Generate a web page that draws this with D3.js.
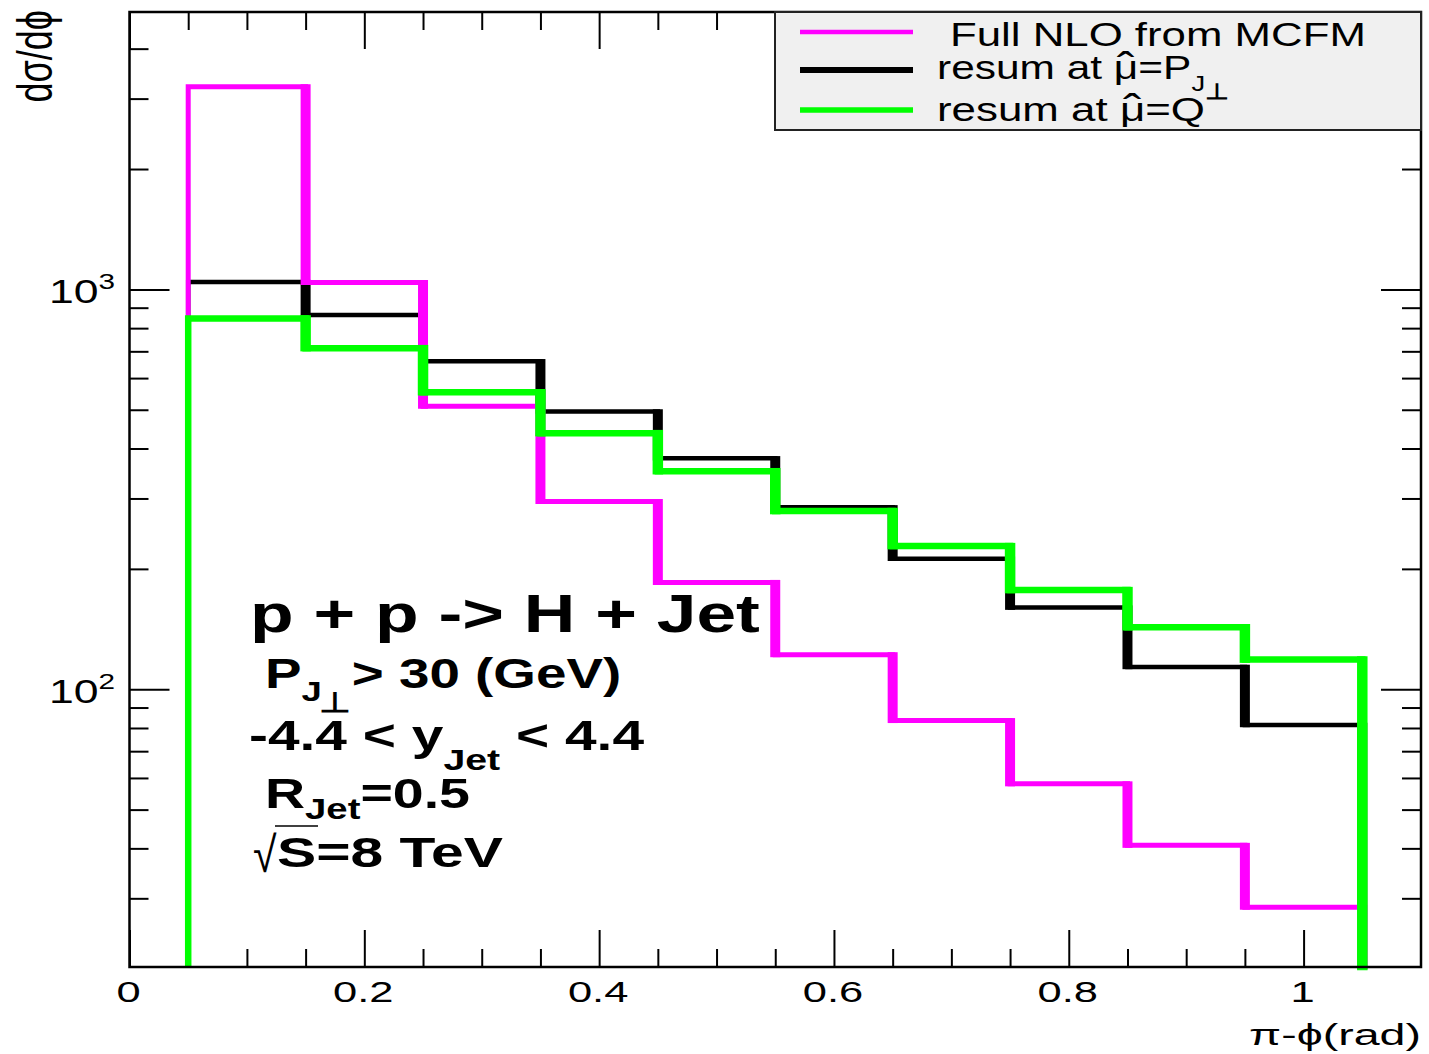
<!DOCTYPE html>
<html>
<head>
<meta charset="utf-8">
<script src="https://cdn.jsdelivr.net/npm/d3@7"></script>
<style>
  html, body { margin: 0; padding: 0; background: #fff; }
  text { font-family: "Liberation Sans", Arial, sans-serif; fill: #000; }
</style>
</head>
<body>
<svg id="chart" width="1429" height="1054"></svg>
<script>
// Bin edges of pi - phi (rad)
const binEdges = [0.05, 0.15, 0.25, 0.35, 0.45, 0.55, 0.65, 0.75, 0.85, 0.95, 1.05];

// dsigma/dphi per bin
const nloMCFM  = [3210, 1040, 510, 295, 185, 122, 83.5, 58, 40.7, 28.5];
const resumPJ  = [1043, 863, 661, 495, 378, 285, 212, 160, 113.7, 81.4];
const resumQ   = [846, 713, 553, 437, 351, 279, 228, 177, 142.9, 118.6];

// Axis ticks
const xMajorTicks = [0, 0.2, 0.4, 0.6, 0.8, 1.0];
const xMajorLabels = ["0", "0.2", "0.4", "0.6", "0.8", "1"];
const xMinorTicks = [0.05, 0.1, 0.15, 0.25, 0.3, 0.35, 0.45, 0.5, 0.55, 0.65, 0.7, 0.75, 0.85, 0.9, 0.95, 1.05];
const yMajorTicks = [100, 1000];
const yMajorExponents = ["2", "3"];
const yMinorTicks = [30, 40, 50, 60, 70, 80, 90, 200, 300, 400, 500, 600, 700, 800, 900, 2000, 3000, 4000];

const W = 1429, H = 1054;
const frame = { left: 129.5, right: 1421, top: 12, bottom: 967 };

const x = d3.scaleLinear().domain([0, 1.1]).range([frame.left, frame.right]);
const y = d3.scaleLog().domain([20.2, 4940]).range([frame.bottom, frame.top]);

const svg = d3.select("#chart");
svg.append("rect").attr("width", W).attr("height", H).attr("fill", "#fff");

// ---- ticks on all four sides, pointing inward ----
function tickSet(gen, transform, values, size) {
  svg.append("g")
    .attr("transform", transform)
    .call(gen.tickValues(values).tickSize(size).tickFormat(""))
    .call(g => g.select(".domain").remove())
    .call(g => g.selectAll("line").attr("stroke", "#000").attr("stroke-width", 2));
}
tickSet(d3.axisBottom(x), `translate(0,${frame.bottom})`, xMajorTicks, -37);
tickSet(d3.axisBottom(x), `translate(0,${frame.bottom})`, xMinorTicks, -18);
tickSet(d3.axisTop(x), `translate(0,${frame.top})`, xMajorTicks, -37);
tickSet(d3.axisTop(x), `translate(0,${frame.top})`, xMinorTicks, -18);
tickSet(d3.axisLeft(y), `translate(${frame.left},0)`, yMajorTicks, -40);
tickSet(d3.axisLeft(y), `translate(${frame.left},0)`, yMinorTicks, -19);
tickSet(d3.axisRight(y), `translate(${frame.right},0)`, yMajorTicks, -40);
tickSet(d3.axisRight(y), `translate(${frame.right},0)`, yMinorTicks, -19);

// ---- histograms ----
const series = [
  { name: "resumPJ", values: resumPJ, color: "#000000", hw: 4.5, vw: 10 },
  { name: "nloMCFM", values: nloMCFM, color: "#ff00ff", hw: 5, vw: 10 },
  { name: "resumQ",  values: resumQ,  color: "#00ff00", hw: 6.5, vw: 10.5 }
];

function stepPath(vals) {
  const p = d3.path();
  p.moveTo(x(binEdges[0]), y.range()[0]);
  vals.forEach((v, i) => {
    p.lineTo(x(binEdges[i]), y(v));
    p.lineTo(x(binEdges[i + 1]), y(v));
  });
  p.lineTo(x(binEdges[binEdges.length - 1]), y.range()[0]);
  return p.toString();
}

series.forEach(s => {
  const g = svg.append("g").attr("class", "hist " + s.name);
  g.append("path")
    .attr("d", stepPath(s.values))
    .attr("fill", "none")
    .attr("stroke", s.color)
    .attr("stroke-width", s.hw)
    .attr("stroke-linejoin", "miter");
  // bin-boundary risers (and the closing edge) drawn heavier
  const risers = s.values.map((v, i) => ({
    xe: binEdges[i + 1],
    a: v,
    b: i + 1 < s.values.length ? s.values[i + 1] : null
  }));
  g.selectAll("line.riser").data(risers).join("line")
    .attr("class", "riser")
    .attr("x1", d => x(d.xe)).attr("x2", d => x(d.xe))
    .attr("y1", d => Math.min(y(d.a), d.b === null ? y.range()[0] : y(d.b)) - s.hw / 2)
    .attr("y2", d => Math.max(y(d.a), d.b === null ? y.range()[0] : y(d.b)) + s.hw / 2)
    .attr("stroke", s.color)
    .attr("stroke-width", s.vw);
});

// ---- frame ----
svg.append("rect")
  .attr("x", frame.left).attr("y", frame.top)
  .attr("width", frame.right - frame.left).attr("height", frame.bottom - frame.top)
  .attr("fill", "none").attr("stroke", "#000").attr("stroke-width", 2.5);

// ---- text helper: builds a text from parts, then stretches it horizontally to a given width ----
function fitText(parent, cfg) {
  const g = parent.append("g");
  const t = g.append("text")
    .attr("font-size", cfg.size)
    .attr("font-weight", cfg.weight || "normal")
    .attr("text-anchor", cfg.anchor || "start");
  cfg.parts.forEach(p => {
    const ts = t.append("tspan").text(p.t);
    if (p.size) ts.attr("font-size", p.size);
    if (p.dy) ts.attr("dy", p.dy);
    if (p.dx) ts.attr("dx", p.dx);
    if (p.weight) ts.attr("font-weight", p.weight);
    if (p.family) ts.style("font-family", p.family);
  });
  const w = t.node().getBBox().width;
  const sx = cfg.width ? cfg.width / w : (cfg.sx || 1);
  g.attr("transform", `translate(${cfg.x},${cfg.y}) scale(${sx},1)`);
  return g;
}

// x tick labels
xMajorTicks.forEach((v, i) => {
  fitText(svg, { x: x(v) - 1, y: 1002, size: 30, anchor: "middle", sx: 1.45,
    parts: [{ t: xMajorLabels[i] }] });
});

// y tick labels (powers of ten)
yMajorTicks.forEach((v, i) => {
  fitText(svg, { x: 115, y: y(v) + 14, size: 33, anchor: "end", sx: 1.35,
    parts: [{ t: "10" }, { t: yMajorExponents[i], size: 22, dy: -14 }] });
});

// axis titles
fitText(svg, { x: 1421, y: 1045, size: 30, anchor: "end", width: 172,
  parts: [{ t: "π-ϕ(rad)" }] });

svg.append("text")
  .attr("transform", "translate(52,10) rotate(-90) scale(1,1.4)")
  .attr("text-anchor", "end")
  .attr("font-size", 36)
  .text("dσ/dϕ");

// ---- legend ----
const legend = svg.append("g");
legend.append("rect")
  .attr("x", 775).attr("y", frame.top)
  .attr("width", frame.right - 775).attr("height", 118)
  .attr("fill", "#f0f0f0").attr("stroke", "#222").attr("stroke-width", 2);

const legendEntries = [
  { color: "#ff00ff", lw: 4.5, ly: 32 },
  { color: "#000000", lw: 6,   ly: 70 },
  { color: "#00ff00", lw: 5.5, ly: 110 }
];
legend.selectAll("line.key").data(legendEntries).join("line")
  .attr("class", "key")
  .attr("x1", 800).attr("x2", 913)
  .attr("y1", d => d.ly).attr("y2", d => d.ly)
  .attr("stroke", d => d.color).attr("stroke-width", d => d.lw);

// mu with a hat: the circumflex is set back over the mu, then the pen returns
const muHat = [
  { t: "μ" },
  { t: "ˆ", size: 42, dx: -17, dy: 3 },
  { t: "=", dx: 3, dy: -3 }
];

fitText(legend, { x: 950, y: 46, size: 34, width: 416,
  parts: [{ t: "Full NLO from MCFM" }] });
fitText(legend, { x: 937, y: 79, size: 34, width: 292,
  parts: [{ t: "resum at " }, ...muHat, { t: "P" },
          { t: "J", size: 22, dy: 12 }, { t: "⊥", size: 22, dy: 8, weight: "bold" }] });
fitText(legend, { x: 937, y: 121, size: 34, width: 268,
  parts: [{ t: "resum at " }, ...muHat, { t: "Q" }] });

// ---- process annotation ----
const note = svg.append("g");
fitText(note, { x: 250, y: 632, size: 54, weight: "bold", width: 510,
  parts: [{ t: "p + p -> H + Jet" }] });
fitText(note, { x: 265, y: 688, size: 42, weight: "bold", width: 355,
  parts: [{ t: "P" }, { t: "J", size: 28, dy: 13 }, { t: "⊥", size: 28, dy: 11, dx: -2 },
          { t: "> 30 (GeV)", dy: -24 }] });
fitText(note, { x: 249, y: 750, size: 42, weight: "bold", width: 396,
  parts: [{ t: "-4.4 < y" }, { t: "Jet", size: 29, dy: 20 }, { t: "  < 4.4", dy: -20 }] });
fitText(note, { x: 265, y: 808, size: 42, weight: "bold", width: 205,
  parts: [{ t: "R" }, { t: "Jet", size: 29, dy: 11 }, { t: "=0.5", dy: -11 }] });
fitText(note, { x: 253, y: 872, size: 50, width: 24,
  parts: [{ t: "√" }] });
note.append("line")
  .attr("x1", 275).attr("x2", 318).attr("y1", 826).attr("y2", 826)
  .attr("stroke", "#000").attr("stroke-width", 1.5);
fitText(note, { x: 277, y: 867, size: 42, weight: "bold", width: 226,
  parts: [{ t: "S=8 TeV" }] });
</script>
</body>
</html>
